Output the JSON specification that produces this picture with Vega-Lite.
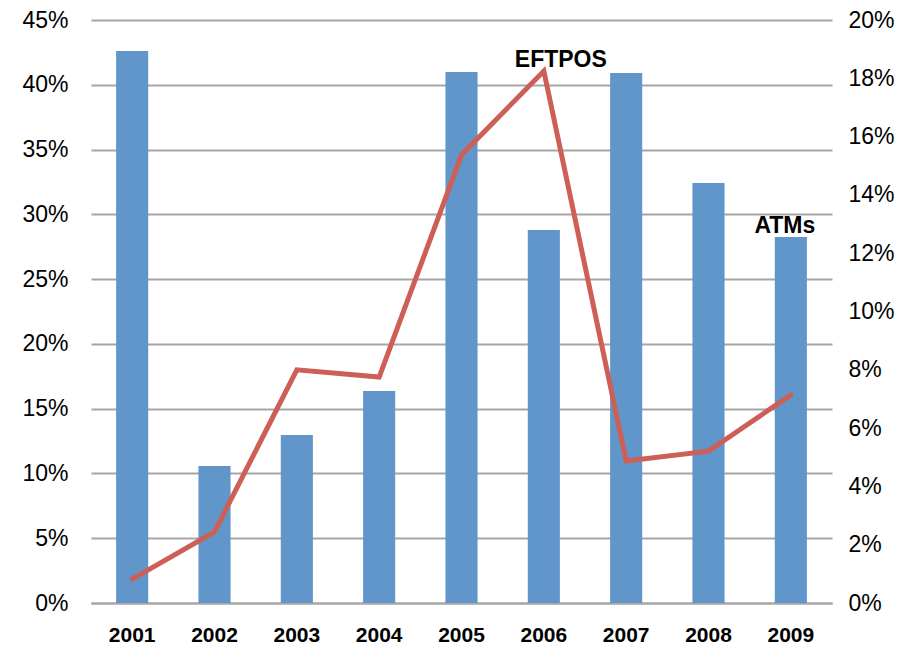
{
  "$schema": "https://vega.github.io/schema/vega-lite/v6.json",
  "autosize": {"type": "none"},
  "width": 741,
  "height": 583,
  "padding": {"left": 91, "top": 20, "right": 75, "bottom": 46},
  "background": "white",
  "config": {
    "view": {"stroke": null},
    "font": "Liberation Sans",
    "axis": {"labelFont": "Liberation Sans", "labelColor": "#000000", "title": null}
  },
  "data": {
    "values": [
      {"year": "2001", "atms": 42.6, "eftpos": 0.82},
      {"year": "2002", "atms": 10.57, "eftpos": 2.44},
      {"year": "2003", "atms": 12.97, "eftpos": 8.0},
      {"year": "2004", "atms": 16.36, "eftpos": 7.75},
      {"year": "2005", "atms": 40.99, "eftpos": 15.37},
      {"year": "2006", "atms": 28.79, "eftpos": 18.25},
      {"year": "2007", "atms": 40.9, "eftpos": 4.87},
      {"year": "2008", "atms": 32.42, "eftpos": 5.21},
      {"year": "2009", "atms": 28.25, "eftpos": 7.14}
    ]
  },
  "encoding": {
    "x": {
      "field": "year",
      "type": "nominal",
      "sort": null,
      "scale": {"paddingInner": 0.61, "paddingOuter": 0.305},
      "axis": {
        "labelAngle": 0,
        "labelFontSize": 21,
        "labelFontWeight": "bold",
        "labelPadding": 21,
        "ticks": false,
        "tickSize": 0,
        "domainColor": "#A6A6A6",
        "domainWidth": 2,
        "grid": false
      }
    }
  },
  "layer": [
    {
      "layer": [
        {
          "mark": {"type": "bar", "color": "#6096CA"},
          "encoding": {
            "y": {
              "field": "atms",
              "type": "quantitative",
              "scale": {"domain": [0, 45], "nice": false},
              "axis": {
                "orient": "left",
                "values": [0, 5, 10, 15, 20, 25, 30, 35, 40, 45],
                "labelExpr": "datum.value + '%'",
                "labelFontSize": 23,
                "labelPadding": 23,
                "ticks": false,
                "tickSize": 0,
                "domain": false,
                "grid": true,
                "gridColor": "#A6A6A6",
                "gridWidth": 2
              }
            }
          }
        },
        {
          "transform": [{"filter": "datum.year == '2009'"}],
          "mark": {"type": "text", "text": "ATMs", "fontSize": 23, "fontWeight": "bold", "baseline": "alphabetic", "align": "center", "dx": -6, "dy": -4, "color": "#000000"},
          "encoding": {
            "y": {"field": "atms", "type": "quantitative", "scale": {"domain": [0, 45], "nice": false}}
          }
        }
      ]
    },
    {
      "layer": [
        {
          "mark": {"type": "line", "color": "#CD5F57", "strokeWidth": 5, "strokeCap": "round", "strokeJoin": "miter"},
          "encoding": {
            "y": {
              "field": "eftpos",
              "type": "quantitative",
              "scale": {"domain": [0, 20], "nice": false},
              "axis": {
                "orient": "right",
                "values": [0, 2, 4, 6, 8, 10, 12, 14, 16, 18, 20],
                "labelExpr": "datum.value + '%'",
                "labelFontSize": 23,
                "labelPadding": 16,
                "ticks": false,
                "tickSize": 0,
                "domain": false,
                "grid": false
              }
            }
          }
        },
        {
          "transform": [{"filter": "datum.year == '2006'"}],
          "mark": {"type": "text", "text": "EFTPOS", "fontSize": 23, "fontWeight": "bold", "baseline": "alphabetic", "align": "center", "dx": 17, "dy": -4, "color": "#000000"},
          "encoding": {
            "y": {"field": "eftpos", "type": "quantitative", "scale": {"domain": [0, 20], "nice": false}}
          }
        }
      ]
    }
  ],
  "resolve": {"scale": {"y": "independent"}, "axis": {"y": "independent"}}
}
